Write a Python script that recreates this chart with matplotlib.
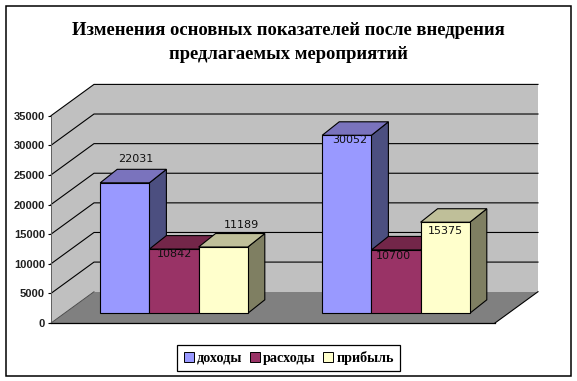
import matplotlib
matplotlib.use("Agg")
import matplotlib.pyplot as plt
from matplotlib.patches import Polygon, Patch, Rectangle

W, H = 577, 381

title = "Изменения основных показателей после внедрения\nпредлагаемых мероприятий"
groups = [0, 1]
series_names = ["доходы", "расходы", "прибыль"]
dohody = [22031, 30052]
rashody = [10842, 10700]
pribyl = [11189, 15375]
yticks = [0, 5000, 10000, 15000, 20000, 25000, 30000, 35000]

colors = ["#9999FF", "#993366", "#FFFFCC"]
top_colors = ["#7A73BD", "#732649", "#BFBF99"]
side_colors = ["#4C4F80", "#4C1933", "#7F7F62"]

# label offsets from the top centre of each bar, in pixels
label_dx = [[11, 2.6], [0.3, -2.7], [18.5, 0]]
label_dy = [[24, -5], [-5, -5.7], [22.4, -9]]

fig = plt.figure(figsize=(W / 100, H / 100), dpi=100, facecolor="white")
ax = fig.add_axes([51 / W, (H - 323) / H, 444 / W, 207.3 / H])
ax.set_xlim(0, 2)
ax.set_ylim(0, 35000)
ax.patch.set_visible(False)

# pixels to data units
px = 2 / 444
py = 35000 / 207.3


def poly(points, fc, ec="black", lw=0.8, z=2):
    ax.add_patch(Polygon(points, closed=True, facecolor=fc, edgecolor=ec,
                         linewidth=lw, clip_on=False, zorder=z))


# walls and floor
wall_dx, wall_dy = 43 * px, 31.3 * py
poly([(0, 0), (wall_dx, wall_dy), (2 + wall_dx, wall_dy), (2, 0)], "#808080", ec="none", z=1)
ax.plot([2, 2 + wall_dx], [0, wall_dy], color="black", lw=0.8, clip_on=False, zorder=1.2)
poly([(wall_dx, wall_dy), (2 + wall_dx, wall_dy), (2 + wall_dx, 35000 + wall_dy), (wall_dx, 35000 + wall_dy)],
     "#C0C0C0", ec="none", z=1)
poly([(0, 0), (wall_dx, wall_dy), (wall_dx, 35000 + wall_dy), (0, 35000)], "#C0C0C0", ec="none", z=1)
for v in yticks[1:]:
    ax.plot([0, wall_dx, 2 + wall_dx], [v, v + wall_dy, v + wall_dy], color="black", lw=0.8,
            clip_on=False, zorder=1.5)
ax.plot([0, wall_dx], [0, wall_dy], color="#404040", lw=0.6, clip_on=False, zorder=1.5)

# bars
bar_w = 49.2 * px
shift_x, shift_y = 12 * px, 9.7 * py
depth_x, depth_y = 17 * px, 13.5 * py
values = [dohody, rashody, pribyl]

for g in groups:
    for s in range(3):
        v = values[s][g]
        x0 = g + 0.5 + shift_x + (s - 1.5) * bar_w
        x1 = x0 + bar_w
        top = v + shift_y
        poly([(x1, shift_y), (x1 + depth_x, shift_y + depth_y), (x1 + depth_x, top + depth_y), (x1, top)],
             side_colors[s], z=3 + s)
        poly([(x0, top), (x0 + depth_x, top + depth_y), (x1 + depth_x, top + depth_y), (x1, top)],
             top_colors[s], z=3 + s)
        ax.bar(x0, v, width=bar_w, bottom=shift_y, align="edge", color=colors[s], edgecolor="black",
               linewidth=0.8, zorder=3 + s + 0.5)

for g in groups:
    for s in range(3):
        v = values[s][g]
        x0 = g + 0.5 + shift_x + (s - 1.5) * bar_w
        ax.annotate(str(v), (x0 + bar_w / 2, v + shift_y), xytext=(label_dx[s][g] * 0.72, label_dy[s][g] * 0.72),
                    textcoords="offset points", ha="center", va="center", fontsize=8,
                    family="DejaVu Sans", color="#101010", zorder=10, annotation_clip=False)

# axes
for side in ["top", "right"]:
    ax.spines[side].set_visible(False)
ax.spines["bottom"].set_linewidth(0.9)
ax.spines["left"].set_linewidth(0.7)
ax.spines["left"].set_color("#606060")
ax.spines["left"].set_zorder(1.6)
ax.spines["bottom"].set_zorder(1.6)
ax.set_xticks([])
ax.set_yticks(yticks)
ax.tick_params(axis="y", length=2.4, width=0.8, pad=2)
for lab in ax.get_yticklabels():
    lab.set_family("Liberation Sans")
    lab.set_fontsize(8)
    lab.set_fontweight("bold")
    lab.set_color("#202020")

fig.text(288.5 / W, 1 - 42.5 / H, title, ha="center", va="center", family="Liberation Serif",
         fontweight="bold", fontsize=13.45, linespacing=1.55)

handles = [Patch(facecolor=c, edgecolor="black", linewidth=0.7) for c in colors]
leg = fig.legend(handles, series_names, loc="center", bbox_to_anchor=(288.7 / W, 1 - 358 / H), ncol=3,
                 fancybox=False, framealpha=1, edgecolor="black", handlelength=0.7, handleheight=0.7,
                 handletextpad=0.25, columnspacing=0.5, borderpad=0.45,
                 prop={"family": "Liberation Serif", "weight": "bold", "size": 10.2})
leg.get_frame().set_linewidth(0.9)

# outer border
fig.add_artist(Rectangle((5.5 / W, 1 - 375.5 / H), 565.5 / W, 370 / H, transform=fig.transFigure,
                         fill=False, edgecolor="black", linewidth=1.1))

fig.savefig("out.png", dpi=100, facecolor="white")
